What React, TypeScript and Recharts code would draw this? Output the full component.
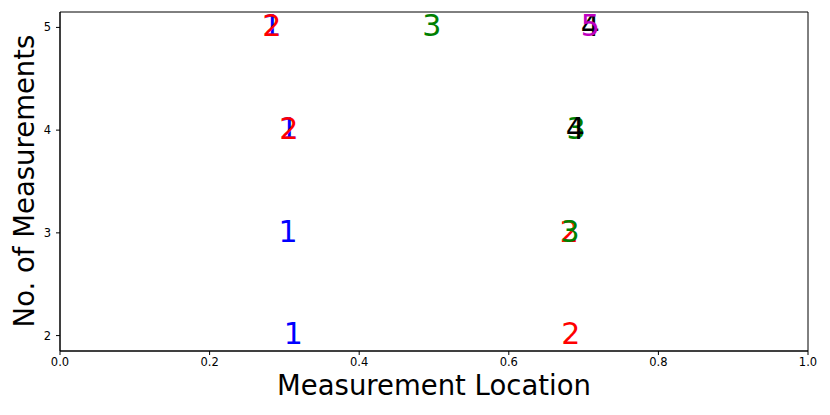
import { ScatterChart, Scatter, XAxis, YAxis, ReferenceArea } from "recharts";

// measurement index shown as the marker text
const labels = ["1", "2", "3", "4", "5"];

// location of each measurement, per index
const loc1 = [0.283, 0.306, 0.305, 0.312];
const loc2 = [0.283, 0.306, 0.681, 0.683];
const loc3 = [0.497, 0.69, 0.682];
const loc4 = [0.709, 0.689];
const loc5 = [0.709];

// number of measurements for the same points
const count1 = [5, 4, 3, 2];
const count2 = [5, 4, 3, 2];
const count3 = [5, 4, 3];
const count4 = [5, 4];
const count5 = [5];

const xTicks = [0, 0.2, 0.4, 0.6, 0.8, 1.0];
const yTicks = [2, 3, 4, 5];

const colors = ["#0000ff", "#ff0000", "#008000", "#000000", "#bf00bf"];
const font = "DejaVu Sans, sans-serif";

const toPoints = (locs: number[], counts: number[]) =>
  locs.map((x, i) => ({ x, y: counts[i] }));

const series = [
  toPoints(loc1, count1),
  toPoints(loc2, count2),
  toPoints(loc3, count3),
  toPoints(loc4, count4),
  toPoints(loc5, count5),
];

function digitShape(label: string, color: string) {
  return (props: any) => (
    <text
      x={props.cx}
      y={props.cy}
      dy="0.29em"
      textAnchor="middle"
      fill={color}
      fontSize={30}
      fontFamily={font}
    >
      {label}
    </text>
  );
}

export default function App() {
  return (
    <div style={{ position: "absolute", left: 0, top: 0, background: "#fff" }}>
      <ScatterChart
        width={830}
        height={415}
        margin={{ top: 12, right: 22, bottom: 0, left: 0 }}
      >
        <XAxis
          type="number"
          dataKey="x"
          domain={[0, 1]}
          ticks={xTicks}
          tickFormatter={(v: number) => v.toFixed(1)}
          allowDataOverflow
          height={64}
          stroke="#000"
          tickSize={4}
          tickMargin={3}
          tick={{ fontSize: 11.5, fill: "#000", fontFamily: font }}
          label={{
            content: () => (
              <text
                x={434}
                y={395}
                textAnchor="middle"
                fontSize={27.5}
                fontFamily={font}
                fill="#000"
              >
                Measurement Location
              </text>
            ),
          }}
        />
        <YAxis
          type="number"
          dataKey="y"
          domain={[1.85, 5.15]}
          ticks={yTicks}
          allowDataOverflow
          width={60}
          stroke="#000"
          tickSize={4}
          tickMargin={5}
          tick={{ fontSize: 11.5, fill: "#000", fontFamily: font }}
          label={{
            content: () => (
              <text
                x={34}
                y={181}
                transform="rotate(-90 34 181)"
                textAnchor="middle"
                fontSize={27.5}
                fontFamily={font}
                fill="#000"
              >
                No. of Measurements
              </text>
            ),
          }}
        />
        <ReferenceArea
          x1={0}
          x2={1}
          y1={1.85}
          y2={5.15}
          fill="none"
          fillOpacity={0}
          stroke="#000"
          strokeWidth={1}
          strokeOpacity={1}
        />
        {series.map((data, i) => (
          <Scatter
            key={labels[i]}
            data={data}
            isAnimationActive={false}
            shape={digitShape(labels[i], colors[i])}
          />
        ))}
      </ScatterChart>
    </div>
  );
}
